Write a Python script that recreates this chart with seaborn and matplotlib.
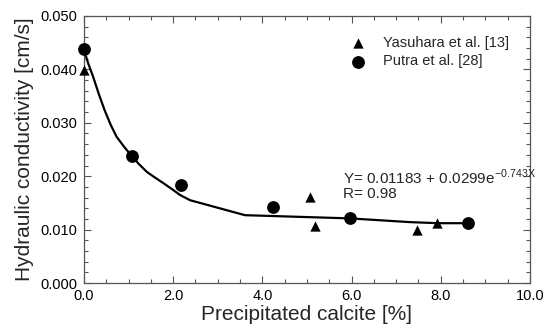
import matplotlib
matplotlib.use("Agg")
import matplotlib.pyplot as plt
import seaborn as sns
import pandas as pd
from matplotlib.ticker import MultipleLocator, FormatStrFormatter

# Data
yas_x = [0.0, 5.07, 5.17, 7.47, 7.92]
yas_y = [0.0398, 0.0161, 0.0106, 0.0099, 0.0113]
put_x = [0.0, 1.08, 2.17, 4.24, 5.96, 8.62]
put_y = [0.0438, 0.0238, 0.0183, 0.0142, 0.0122, 0.0113]
fit_x = [0.0, 0.1, 0.21, 0.34, 0.47, 0.6, 0.73, 0.9, 1.07, 1.24, 1.41, 1.6, 1.78, 1.97,
         2.15, 2.38, 3.61, 5.96, 7.31, 7.94, 8.61]
fit_y = [0.0436, 0.0410, 0.0385, 0.0352, 0.0322, 0.0296, 0.0274, 0.0255, 0.0238, 0.0222,
         0.0208, 0.0197, 0.0187, 0.0176, 0.0165, 0.0155, 0.0127, 0.0121, 0.0114, 0.0112, 0.0112]
legend_labels = ["Yasuhara et al. [13]", "Putra et al. [28]"]

sns.set_theme(style="ticks")
plt.rcParams['font.family'] = ['Liberation Sans', 'DejaVu Sans']

fig = plt.figure(figsize=(5.5, 3.29), dpi=100)
ax = fig.add_axes([0.1527, 0.1398, 0.8109, 0.8116])

df_fit = pd.DataFrame({"x": fit_x, "y": fit_y})
sns.lineplot(data=df_fit, x="x", y="y", sort=False, color="black", lw=1.6, ax=ax, zorder=2)
sns.scatterplot(x=yas_x, y=yas_y, marker="^", s=55, color="black", edgecolor="black",
                linewidth=0, ax=ax, label=legend_labels[0], zorder=3, clip_on=False)
sns.scatterplot(x=put_x, y=put_y, marker="o", s=85, color="black", edgecolor="black",
                linewidth=0, ax=ax, label=legend_labels[1], zorder=3, clip_on=False)

ax.set_xlim(0, 10)
ax.set_ylim(0, 0.05)
ax.xaxis.set_major_locator(MultipleLocator(2))
ax.xaxis.set_minor_locator(MultipleLocator(0.5))
ax.yaxis.set_major_locator(MultipleLocator(0.01))
ax.yaxis.set_minor_locator(MultipleLocator(0.002))
ax.xaxis.set_major_formatter(FormatStrFormatter("%.1f"))
ax.yaxis.set_major_formatter(FormatStrFormatter("%.3f"))
ax.tick_params(which="both", direction="in", top=True, right=True, color="#555555",
               labelsize=10.5, labelcolor="black", width=0.8)
ax.tick_params(which="major", length=5)
ax.tick_params(axis="x", which="major", pad=4)
ax.tick_params(axis="y", which="major", pad=5)
ax.tick_params(which="minor", length=3)
for s in ax.spines.values():
    s.set_color("#555555")
    s.set_linewidth(0.9)

ax.set_xlabel("Precipitated calcite [%]", fontsize=15, labelpad=2)
ax.set_ylabel("Hydraulic conductivity [cm/s]", fontsize=15, labelpad=4)

leg = ax.legend(loc="upper left", bbox_to_anchor=(0.582, 0.925), frameon=False,
                fontsize=10.5, handletextpad=0.7, labelspacing=0.3, borderaxespad=0.0,
                borderpad=0.0, handlelength=2.0)

ax.text(5.8, 0.0197, "Y= 0.01183 + 0.0299e$^{\\mathregular{-0.743X}}$", fontsize=11,
        va="center", ha="left")
ax.text(5.8, 0.0167, "R= 0.98", fontsize=11, va="center", ha="left")

fig.savefig("out.png", dpi=100)
